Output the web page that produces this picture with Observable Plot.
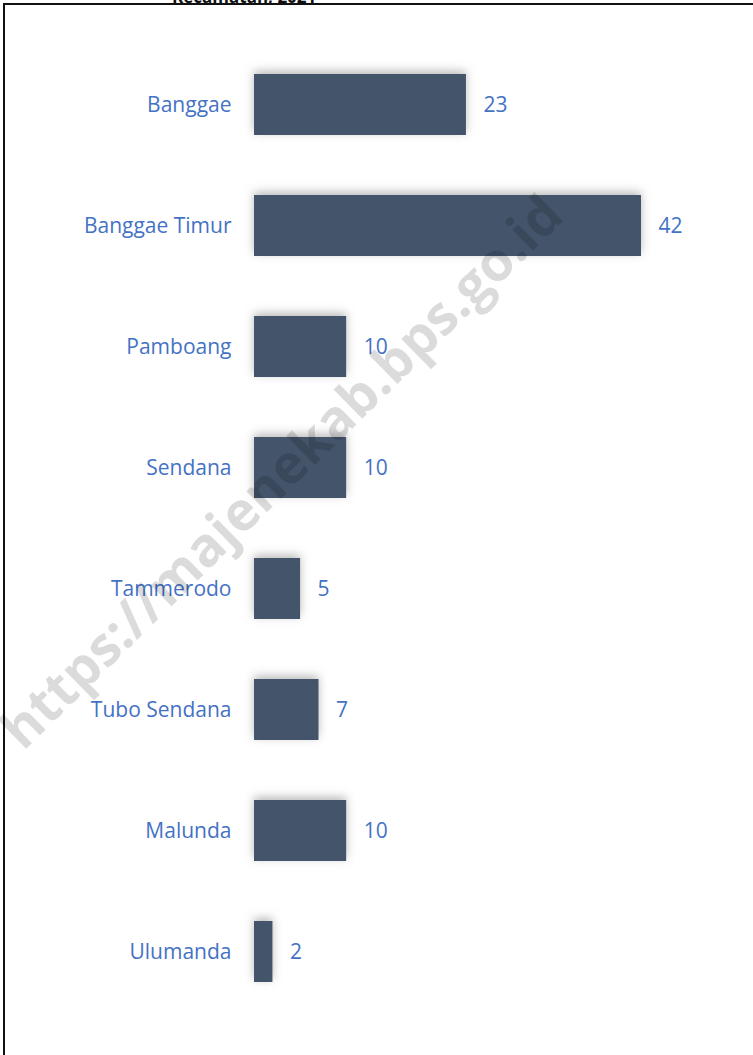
<!DOCTYPE html>
<html>
<head>
<meta charset="utf-8">
<script src="https://cdn.jsdelivr.net/npm/d3@7"></script>
<script src="https://cdn.jsdelivr.net/npm/@observablehq/plot@0.6"></script>
<style>
  html, body { margin: 0; padding: 0; background: #fff; overflow: hidden; }
  #wrap { position: relative; width: 753px; height: 1055px; overflow: hidden; }
  #frame { position: absolute; left: 3px; top: 3px; width: 760px; height: 1100px; border: 2.5px solid #111; box-sizing: border-box; }
  #title { position: absolute; left: 172px; top: -15px; font: bold 17px "Open Sans", sans-serif; color: #111; white-space: nowrap; }
  #chart { position: absolute; left: 0; top: 0; }
  #wm { position: absolute; left: 280px; top: 470px; transform: translate(-50%, -50%) rotate(-44.5deg);
        font: bold 54px "Open Sans", sans-serif; color: rgba(0,0,0,0.14); white-space: nowrap; pointer-events: none; }
</style>
</head>
<body>
<div id="wrap">
  <div id="title">Kecamatan, 2021</div>
  <div id="frame"></div>
  <div id="chart"></div>
  <div id="wm">https://majenekab.bps.go.id</div>
</div>
<script>
const kecamatan = ["Banggae", "Banggae Timur", "Pamboang", "Sendana", "Tammerodo", "Tubo Sendana", "Malunda", "Ulumanda"];
const jumlah = [23, 42, 10, 10, 5, 7, 10, 2];
const data = kecamatan.map((k, i) => ({kecamatan: k, jumlah: jumlah[i]}));

const blue = "#4472C4";
const chart = Plot.plot({
  width: 753,
  height: 1055,
  marginLeft: 254,
  marginRight: 112,
  marginTop: 13.5,
  marginBottom: 13,
  style: {background: "transparent", fontFamily: "'Open Sans', sans-serif", fontSize: "21px", color: blue},
  x: {domain: [0, 42], axis: null},
  y: {domain: kecamatan, padding: 0.5, label: null, tickSize: 0, tickPadding: 23},
  marks: [
    Plot.barX(data, {x: "jumlah", y: "kecamatan", fill: "#7f7f7f", fillOpacity: 0.55, dy: -3,
      render: (index, scales, values, dims, context, next) => {
        const g = next(index, scales, values, dims, context);
        const svg = context.ownerSVGElement;
        const defs = document.createElementNS("http://www.w3.org/2000/svg", "defs");
        defs.innerHTML = `<filter id="sh" x="-20%" y="-50%" width="140%" height="200%"><feGaussianBlur stdDeviation="5"/></filter>`;
        svg.insertBefore(defs, svg.firstChild);
        g.setAttribute("filter", "url(#sh)");
        return g;
      }}),
    Plot.barX(data, {x: "jumlah", y: "kecamatan", fill: "#44546A"}),
    Plot.text(data, {x: "jumlah", y: "kecamatan", text: d => String(d.jumlah), dx: 17, textAnchor: "start", fill: blue, fontSize: 21}),
    Plot.axisY({tickSize: 0, tickPadding: 23, fontSize: 21, color: blue, label: null})
  ]
});
document.getElementById("chart").appendChild(chart);
</script>
</body>
</html>
